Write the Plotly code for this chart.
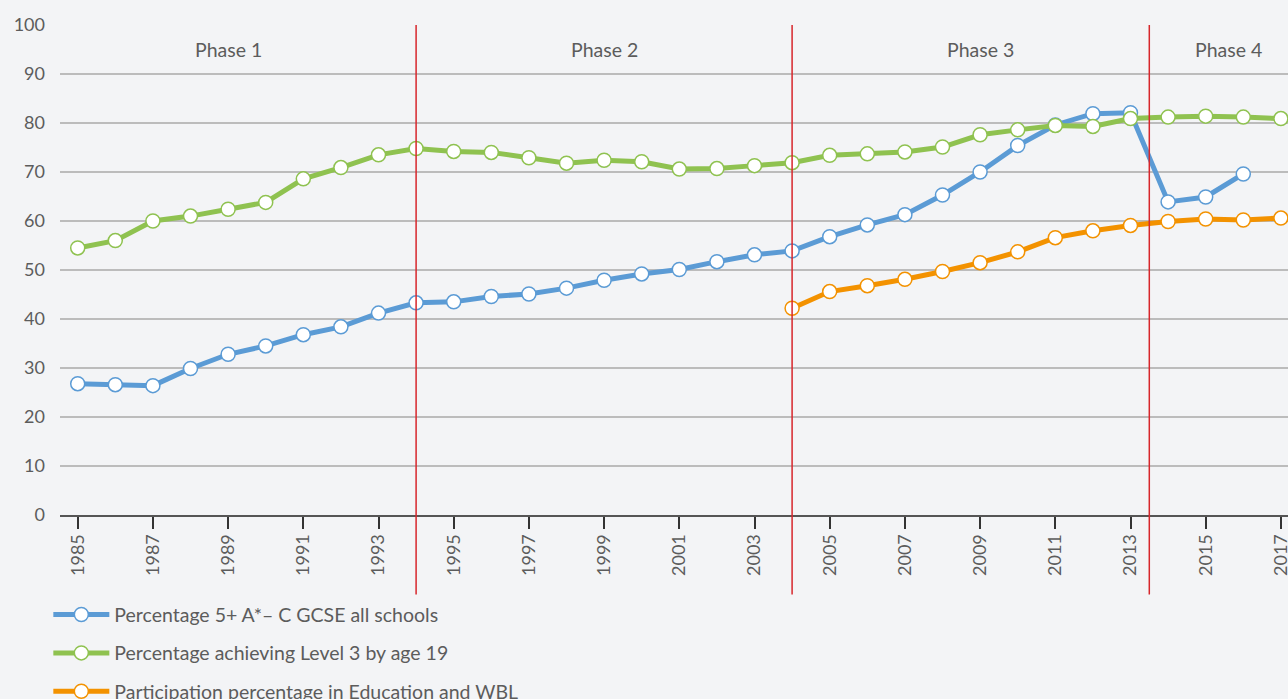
import plotly.graph_objects as go

# ---------------- data ----------------
years = list(range(1985, 2018))
gcse = [26.8, 26.6, 26.4, 29.9, 32.8, 34.5, 36.8, 38.4, 41.2, 43.3,
        43.5, 44.6, 45.1, 46.3, 47.9, 49.2, 50.1, 51.7, 53.1, 53.9,
        56.8, 59.2, 61.3, 65.3, 70.0, 75.4, 79.6, 81.9, 82.1, 63.9,
        64.9, 69.6, None]
level3 = [54.5, 56.0, 60.0, 61.0, 62.4, 63.8, 68.6, 70.9, 73.5, 74.8,
          74.2, 74.0, 72.9, 71.8, 72.4, 72.1, 70.6, 70.7, 71.3, 71.9,
          73.4, 73.7, 74.1, 75.1, 77.6, 78.6, 79.5, 79.3, 80.9, 81.2,
          81.4, 81.2, 80.9]
part_years = list(range(2004, 2018))
participation = [42.2, 45.6, 46.8, 48.1, 49.7, 51.5, 53.7, 56.6, 58.0, 59.1,
                 59.9, 60.4, 60.2, 60.6]

series_names = ["Percentage 5+ A*– C GCSE all schools",
                "Percentage achieving Level 3 by age 19",
                "Participation percentage in Education and WBL"]

phase_bounds = [1994, 2004, 2013.5]
phase_labels = ["Phase 1", "Phase 2", "Phase 3", "Phase 4"]
phase_label_x = [1989, 1999, 2009, 2015.6]
phase_label_y = 95

y_ticks = list(range(0, 101, 10))

# ---------------- style ----------------
FONT = "Lato, 'Source Sans Pro', sans-serif"
TXT = "#5c5c5c"
BG = "#f3f4f6"
BLUE = "#5b9bd5"
GREEN = "#8fc250"
ORANGE = "#f39200"
RED = "#d7262b"

x_range = [1984.529, 2017.189]

fig = go.Figure()

for i, (xs, ys, col) in enumerate([(years, gcse, BLUE),
                                   (years, level3, GREEN),
                                   (part_years, participation, ORANGE)]):
    fig.add_trace(go.Scatter(
        x=xs, y=ys, name=series_names[i], mode="lines+markers",
        legendgroup=f"g{i}",
        line=dict(color=col, width=5),
        marker=dict(size=14, color="white", line=dict(color=col, width=1.5)),
        connectgaps=False,
    ))

shapes = []
for b in phase_bounds:
    shapes.append(dict(type="line", xref="x", yref="paper", x0=b, x1=b,
                       y0=-0.162, y1=1, line=dict(color=RED, width=1.5),
                       layer="above"))

annotations = []
for lx, lt in zip(phase_label_x, phase_labels):
    annotations.append(dict(x=lx, y=phase_label_y, xref="x", yref="y",
                            text=lt, showarrow=False,
                            font=dict(family=FONT, size=19.5, color=TXT)))

fig.update_layout(
    width=1288, height=699,
    paper_bgcolor=BG, plot_bgcolor=BG,
    margin=dict(l=60, r=0, t=24.5, b=183.5, autoexpand=False),
    font=dict(family=FONT, size=18, color=TXT),
    showlegend=True,
    legend=dict(x=-0.0095, y=-0.164, xanchor="left", yanchor="top",
                orientation="v", tracegroupgap=10, itemwidth=56,
                bgcolor="rgba(0,0,0,0)",
                font=dict(family=FONT, size=19.5, color=TXT)),
    xaxis=dict(range=x_range, tickmode="linear", tick0=1985, dtick=2,
               tickangle=-90, ticks="outside", ticklen=12, tickwidth=1.5,
               tickcolor="#333333", showgrid=False, zeroline=False,
               showline=True, linecolor="#555555", linewidth=2,
               tickfont=dict(family=FONT, size=18, color=TXT),
               ticklabelstandoff=-2, ticklabeloverflow="allow"),
    xaxis2=dict(range=x_range, overlaying="x", anchor="y", side="bottom",
                tickmode="linear", tick0=1985, dtick=2, ticks="inside",
                ticklen=12, tickwidth=1.5, tickcolor="#333333",
                showticklabels=False, showgrid=False, zeroline=False,
                showline=False),
    yaxis=dict(range=[0, 100], tickvals=y_ticks, showgrid=True,
               gridcolor="#bcbcbc", gridwidth=1.5, zeroline=False,
               showline=False, ticks="",
               tickfont=dict(family=FONT, size=18, color=TXT),
               ticklabelstandoff=14),
    shapes=shapes,
    annotations=annotations,
)

fig.write_html(
    "out.html",
    config={"displayModeBar": False},
    post_script="document.body.style.margin='0';"
                "document.body.style.background='#f3f4f6';",
)
